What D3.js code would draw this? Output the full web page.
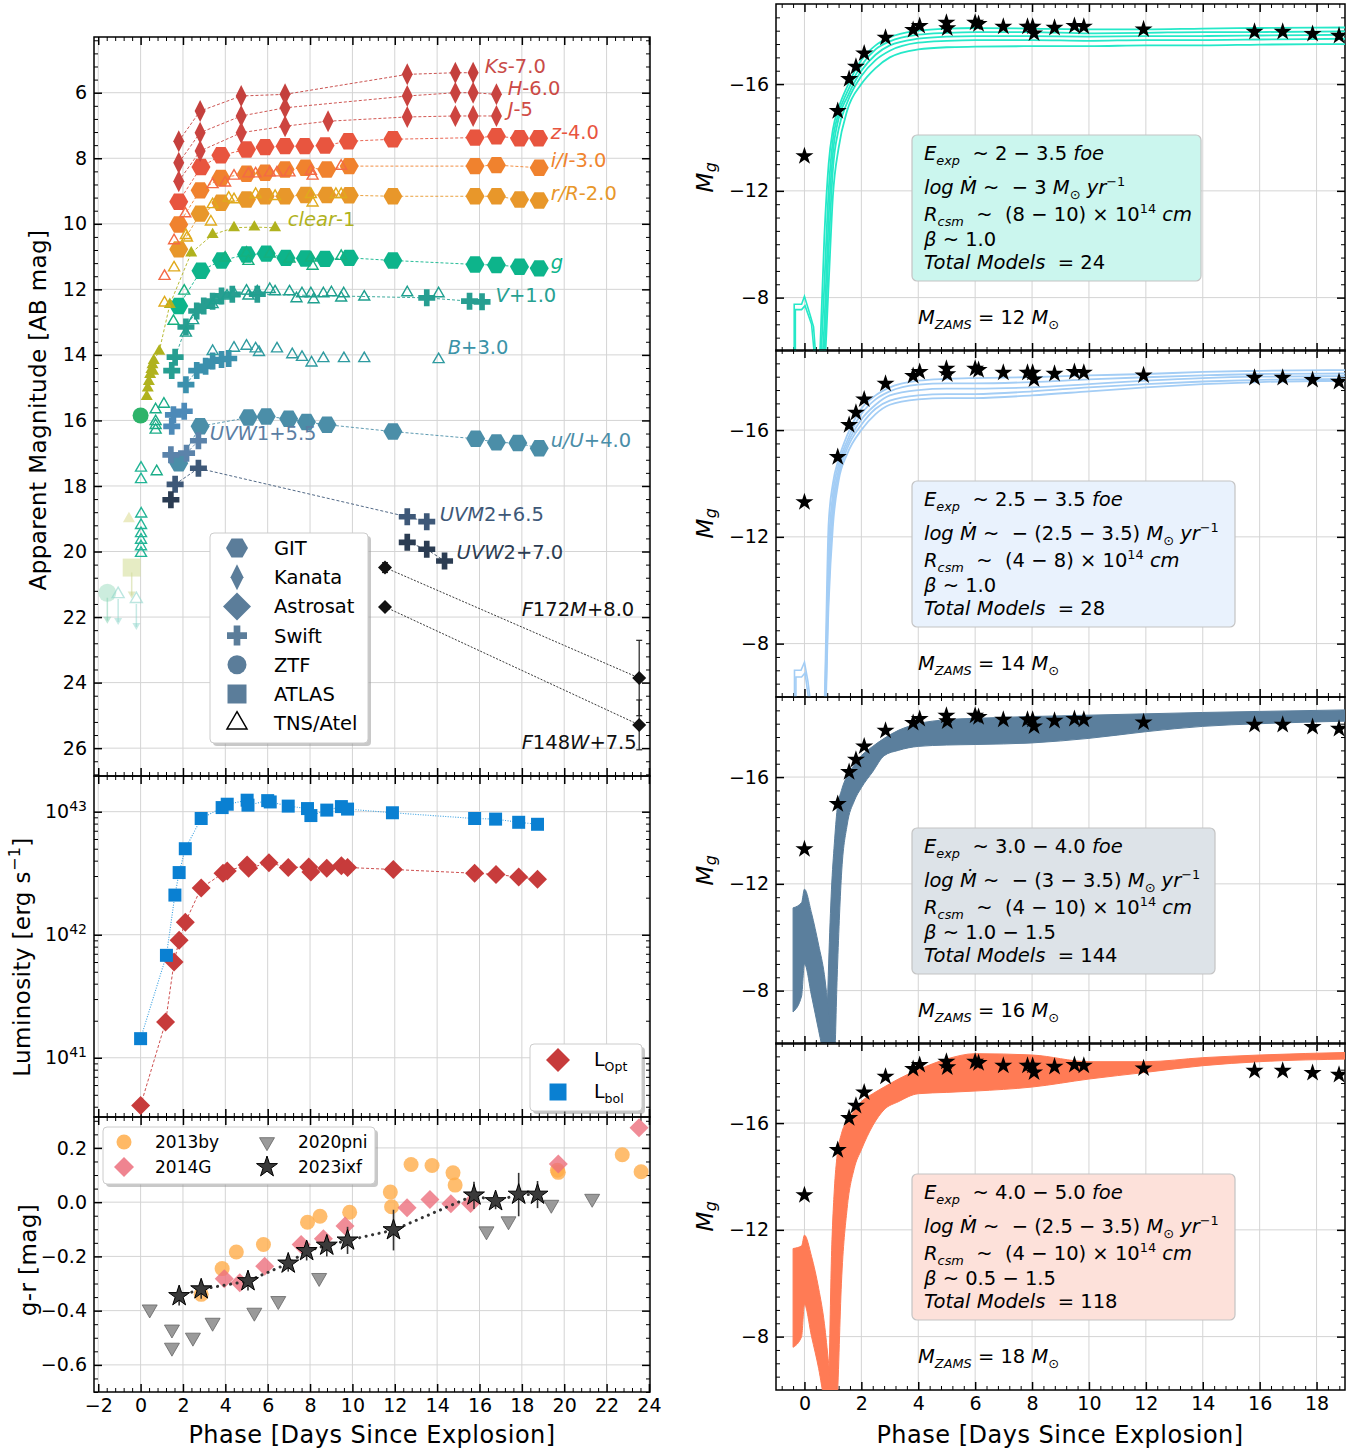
<!DOCTYPE html>
<html>
<head>
<meta charset="utf-8">
<script src="https://cdn.jsdelivr.net/npm/d3@7/dist/d3.min.js"></script>
<style>
  body { margin: 0; background: #fff; }
  svg text { font-family: "DejaVu Sans", sans-serif; }
</style>
</head>
<body>
<svg id="fig" width="1366" height="1453"></svg>
<script>
// ---------------- light curves: [phase (d), apparent mag] ----------------
const ksData = [[1.80,7.48],[2.81,6.56],[4.75,6.10],[6.82,6.05],[12.59,5.44],[14.86,5.39],[15.70,5.39]];
const hData = [[1.80,8.14],[2.81,7.22],[4.75,6.71],[6.82,6.46],[12.59,6.10],[14.86,6.00],[15.70,6.00],[16.80,6.05]];
const jData = [[1.80,8.70],[2.81,7.78],[4.75,7.22],[6.82,7.02],[8.85,6.87],[12.59,6.74],[14.86,6.71],[15.70,6.71],[16.80,6.71]];
const zData = [[1.80,9.33],[2.85,8.27],[3.79,7.91],[5.00,7.73],[5.88,7.66],[6.82,7.63],[7.75,7.63],[8.71,7.61],[9.81,7.48],[11.91,7.42],[15.79,7.37],[16.80,7.33],[17.89,7.39],[18.79,7.39]];
const iData = [[1.80,10.02],[2.81,8.98],[3.79,8.60],[5.00,8.47],[5.88,8.44],[6.82,8.34],[7.78,8.29],[8.79,8.34],[9.85,8.24],[15.79,8.24],[16.80,8.21],[18.82,8.29]];
const rData = [[1.80,10.78],[2.81,9.69],[3.79,9.36],[5.00,9.26],[5.88,9.16],[6.82,9.16],[7.78,9.12],[8.79,9.12],[9.85,9.13],[11.91,9.16],[15.79,9.16],[16.80,9.16],[17.89,9.26],[18.82,9.29]];
const gData = [[1.80,12.51],[2.85,11.43],[3.82,11.12],[5.00,10.94],[5.93,10.91],[6.86,11.04],[7.78,11.06],[8.71,11.07],[9.85,11.04],[11.91,11.12],[15.79,11.24],[16.80,11.26],[17.89,11.31],[18.82,11.36]];
const uGitData = [[1.80,17.31],[2.81,16.18],[5.09,15.91],[5.93,15.88],[6.99,15.95],[7.83,16.05],[8.80,16.13],[11.91,16.34],[15.82,16.56],[16.80,16.67],[17.81,16.69],[18.82,16.85]];
const clearData = [[0.29,15.27],[0.34,15.01],[0.39,14.81],[0.45,14.60],[0.51,14.45],[0.56,14.30],[0.59,14.50],[0.62,14.17],[0.88,13.89],[1.38,12.46],[2.39,10.89],[3.40,10.33],[4.41,10.12],[5.37,10.10],[6.35,10.12]];
const ztfData = [[0.0,15.85]];

// Swift
const vSwift = [[1.47,14.48],[1.63,14.07],[2.14,13.15],[2.65,12.66],[2.98,12.51],[3.40,12.36],[3.82,12.20],[4.33,12.15],[5.51,12.15],[13.51,12.26],[15.53,12.36],[16.12,12.38]];
const bSwift = [[2.14,14.91],[2.65,14.48],[3.07,14.35],[3.40,14.19],[3.82,14.14],[4.16,14.11]];
const uSwift = [[1.47,16.18],[1.55,15.83],[2.06,15.72]];
const uvw1Swift = [[1.43,17.05],[2.17,17.00],[2.73,16.62]];
const uvm2Swift = [[1.63,17.95],[2.73,17.46],[12.59,18.94],[13.51,19.09]];
const uvw2Early = [[1.43,18.42]];
const uvw2Swift = [[12.59,19.72],[13.51,19.93],[14.35,20.29]];

// Astrosat UVIT: [phase, mag, err]
const f172Data = [[11.54,20.49,0.15],[23.54,23.86,1.15]];
const f148Data = [[11.54,21.69,0.05],[23.54,25.29,0.76]];

// TNS / ATel
const tnsI = [[1.13,11.60],[1.58,10.51],[2.11,9.69],[3.40,8.80],[3.99,8.75],[4.41,8.54],[5.09,8.47],[5.43,8.47],[6.10,8.44],[6.44,8.44],[7.03,8.44],[8.04,8.39],[8.12,8.54],[9.47,8.24]];
const tnsR = [[1.13,12.41],[1.58,11.34],[2.14,10.35],[2.19,10.43],[3.32,9.94],[3.40,9.41],[4.16,9.21],[4.41,9.26],[5.43,9.10],[6.35,9.16],[8.04,9.10],[8.12,9.36],[9.22,9.10],[9.47,9.10]];
const tnsG = [[1.55,12.97],[2.06,12.05],[3.99,11.04],[5.00,10.89],[5.09,11.14],[6.10,10.92],[7.03,11.07],[8.04,11.04],[8.12,11.29],[9.47,10.99]];
const tnsV = [[2.14,13.33],[2.48,12.95],[3.40,12.46],[3.57,12.34],[4.08,12.20],[4.41,12.13],[5.00,12.05],[5.09,12.20],[5.51,12.07],[6.10,12.00],[6.35,12.07],[7.03,12.07],[7.36,12.28],[7.62,12.13],[8.04,12.13],[8.17,12.31],[8.63,12.13],[9.01,12.10],[9.47,12.26],[9.59,12.13],[10.56,12.23],[12.59,12.10],[14.07,12.13]];
const tnsB = [[3.40,13.89],[4.41,13.79],[5.00,13.73],[5.43,13.81],[5.59,13.92],[6.44,13.81],[7.16,13.99],[7.62,14.07],[8.07,14.24],[8.63,14.11],[9.60,14.11],[10.56,14.11],[14.07,14.14]];
const tnsEarly = [[0.71,15.67],[0.71,16.03],[0.71,16.15],[0.71,16.29],[1.10,15.50],[0.76,17.56]];
const tnsDay0 = [[0.02,17.45],[0.02,17.80],[0.03,18.85],[0.02,19.20],[0.02,19.45],[0.02,19.65],[0.02,19.85],[0.02,20.05]];

// pre-explosion limits
const limZtf = [[-1.57,21.26]];
const limTns = [[-1.06,21.30],[-0.20,21.45]];
const limAtlas = [[-0.42,20.49]];
const preClear = [[-0.55,19.00]];

// band labels: [phase, mag]
const bandLabels = [
  {seg:[["Ks","i"],["-7.0",""]], at:[16.25,5.18], c:"#c94b48"},
  {seg:[["H","i"],["-6.0",""]], at:[17.33,5.85], c:"#cc4a46"},
  {seg:[["J","i"],["-5",""]], at:[17.33,6.49], c:"#d04b45"},
  {seg:[["z","i"],["-4.0",""]], at:[19.36,7.19], c:"#e8553f"},
  {seg:[["i/I","i"],["-3.0",""]], at:[19.36,8.04], c:"#f0842e"},
  {seg:[["r/R","i"],["-2.0",""]], at:[19.36,9.05], c:"#e8972a"},
  {seg:[["clear","i"],["-1",""]], at:[6.95,9.84], c:"#b0b21e"},
  {seg:[["g","i"]], at:[19.36,11.18], c:"#0db48b"},
  {seg:[["V","i"],["+1.0",""]], at:[16.76,12.16], c:"#27a192"},
  {seg:[["B","i"],["+3.0",""]], at:[14.5,13.77], c:"#3b93a8"},
  {seg:[["u/U","i"],["+4.0",""]], at:[19.36,16.61], c:"#4b8ea8"},
  {seg:[["UVW","i"],["1+5.5",""]], at:[3.27,16.37], c:"#5b7ea3"},
  {seg:[["UVM","i"],["2+6.5",""]], at:[14.12,18.87], c:"#3e5878"},
  {seg:[["UVW","i"],["2+7.0",""]], at:[14.92,20.02], c:"#2b3c52"},
  {seg:[["F","i"],["172",""],["M","i"],["+8.0",""]], at:[17.99,21.76], c:"#111"},
  {seg:[["F","i"],["148",""],["W","i"],["+7.5",""]], at:[17.99,25.80], c:"#111"}
];
const legendNames = ["GIT", "Kanata", "Astrosat", "Swift", "ZTF", "ATLAS", "TNS/Atel"];

// ---------------- bolometric / optical luminosity [phase, L] ----------------
const lbolData = [[0,1.43e41],[1.22,6.8e41],[1.62,2.1e42],[1.82,3.2e42],[2.11,5.0e42],[2.86,8.8e42],[3.85,1.08e43],[4.09,1.15e43],[5.03,1.24e43],[5.07,1.13e43],[6.0,1.23e43],[6.12,1.20e43],[6.97,1.11e43],[7.88,1.06e43],[8.04,9.3e42],[8.79,1.03e43],[9.48,1.10e43],[9.77,1.05e43],[11.89,9.8e42],[15.77,8.8e42],[16.76,8.7e42],[17.85,8.2e42],[18.74,7.9e42]];
const loptData = [[0,4.1e40],[1.18,1.95e41],[1.58,6.0e41],[1.82,9.0e41],[2.11,1.26e42],[2.86,2.4e42],[3.89,3.16e42],[4.09,3.3e42],[5.03,3.68e42],[5.10,3.47e42],[6.06,3.85e42],[6.97,3.52e42],[7.94,3.55e42],[8.04,3.24e42],[8.79,3.47e42],[9.48,3.63e42],[9.77,3.52e42],[11.93,3.39e42],[15.77,3.16e42],[16.78,3.09e42],[17.85,2.95e42],[18.74,2.82e42]];

// ---------------- g-r colour [phase, g-r] ----------------
const by13 = [[2.86,-0.34],[3.85,-0.245],[4.52,-0.184],[5.80,-0.156],[7.88,-0.074],[8.47,-0.052],[9.87,-0.037],[11.79,0.037],[11.85,-0.017],[12.77,0.139],[13.76,0.135],[14.75,0.108],[14.85,0.063],[19.68,0.118],[19.72,0.11],[22.74,0.175],[23.63,0.112]];
const g14 = [[3.95,-0.282],[4.68,-0.297],[5.86,-0.236],[7.58,-0.156],[8.63,-0.135],[9.65,-0.088],[12.58,-0.021],[13.66,0.01],[14.65,-0.006],[15.58,-0.005],[19.72,0.141],[23.53,0.274]];
const pni20 = [[0.43,-0.395],[1.48,-0.469],[1.48,-0.536],[2.47,-0.499],[3.40,-0.444],[5.37,-0.407],[6.50,-0.364],[8.43,-0.279],[16.33,-0.107],[17.37,-0.07],[19.39,-0.009],[21.32,0.013]];
const ixf23 = [[1.82,-0.346,0.035],[2.86,-0.321,0.035],[5.07,-0.291,0.035],[6.97,-0.226,0.03],[7.84,-0.18,0.035],[8.79,-0.16,0.04],[9.77,-0.141,0.05],[11.94,-0.103,0.075],[15.74,0.025,0.05],[16.76,0.004,0.03],[17.85,0.028,0.08],[18.74,0.028,0.05]];

// ---------------- absolute g mag and model grids ----------------
const mgObs = [[0,-13.3],[1.17,-14.99],[1.57,-16.19],[1.81,-16.65],[2.10,-17.15],[2.85,-17.74],[3.82,-18.03],[4.05,-18.18],[4.99,-18.3],[5.02,-18.09],[6.0,-18.3],[6.12,-18.25],[6.99,-18.15],[7.84,-18.15],[8.02,-18.15],[8.07,-17.9],[8.79,-18.11],[9.49,-18.18],[9.82,-18.15],[11.92,-18.05],[15.82,-17.96],[16.81,-17.96],[17.86,-17.88],[18.79,-17.81]];

const modelPhase = [0.55,0.7,0.85,1.0,1.2,1.5,2.0,2.5,3.0,4.0,5.0,6.0,8.0,10,12,14,16,19.2];
const m12Curves = [
  [-6.0,-10.3,-13.0,-14.3,-15.1,-15.9,-16.9,-17.45,-17.75,-18.0,-18.08,-18.1,-18.08,-18.05,-18.05,-18.08,-18.1,-18.12],
  [-5.0,-8.5,-12.0,-13.9,-14.9,-15.7,-16.7,-17.3,-17.6,-17.85,-17.92,-17.95,-17.95,-17.9,-17.92,-17.95,-17.95,-17.98],
  [-4.5,-7.0,-11.0,-13.4,-14.7,-15.5,-16.5,-17.1,-17.45,-17.7,-17.78,-17.8,-17.8,-17.78,-17.8,-17.8,-17.82,-17.85],
  [-4.0,-6.0,-9.8,-12.8,-14.3,-15.3,-16.3,-16.9,-17.25,-17.55,-17.62,-17.65,-17.65,-17.62,-17.65,-17.65,-17.67,-17.7],
  [-3.5,-5.2,-8.5,-11.8,-13.6,-15.0,-16.0,-16.6,-17.0,-17.3,-17.38,-17.4,-17.42,-17.42,-17.45,-17.45,-17.48,-17.5]
];
const m12Early = [
  [[-0.36,-5.5],[-0.36,-7.75],[-0.1,-7.75],[0,-8.05],[0.2,-7.35],[0.32,-6.9],[0.42,-5.5]],
  [[-0.32,-5.5],[-0.32,-7.55],[-0.1,-7.55],[0.02,-7.7],[0.25,-7.0],[0.38,-5.5]]
];
const m14Curves = [
  [-3.0,-5.5,-12.5,-14.0,-14.9,-15.8,-16.8,-17.3,-17.6,-17.85,-17.92,-17.95,-17.98,-18.05,-18.1,-18.18,-18.22,-18.25],
  [-3.0,-5.0,-11.5,-13.6,-14.7,-15.6,-16.6,-17.15,-17.45,-17.7,-17.75,-17.75,-17.8,-17.9,-17.98,-18.05,-18.1,-18.12],
  [-3.0,-4.8,-10.8,-13.2,-14.5,-15.45,-16.4,-16.95,-17.3,-17.5,-17.55,-17.55,-17.6,-17.72,-17.85,-17.95,-18.0,-18.02],
  [-3.0,-4.5,-10.0,-12.8,-14.3,-15.3,-16.2,-16.8,-17.1,-17.3,-17.35,-17.35,-17.45,-17.6,-17.72,-17.82,-17.88,-17.92],
  [-3.0,-4.2,-9.5,-12.4,-14.1,-15.1,-16.0,-16.6,-16.95,-17.15,-17.2,-17.2,-17.3,-17.45,-17.6,-17.72,-17.8,-17.85]
];
const m14Early = [
  [[-0.35,-5.5],[-0.35,-7.0],[-0.12,-7.0],[0,-7.3],[0.12,-6.6],[0.25,-5.5]],
  [[-0.3,-5.5],[-0.3,-6.75],[-0.1,-6.75],[0.02,-6.9],[0.2,-5.5]]
];
const bandPhase = [0.75,0.85,0.95,1.05,1.15,1.3,1.5,1.75,2.0,2.4,2.8,3.3,4,5,6,8,10,12,14,16,19.2];
const m16Upper = [-5,-9,-11.8,-13.5,-14.8,-15.5,-16.05,-16.45,-16.8,-17.15,-17.45,-17.75,-18.0,-18.15,-18.2,-18.27,-18.32,-18.37,-18.42,-18.46,-18.52];
const m16Lower = [-4,-4,-4,-5,-8.5,-12.3,-14.2,-15.1,-15.6,-16.2,-16.8,-17.0,-17.15,-17.2,-17.22,-17.28,-17.45,-17.7,-17.9,-18.0,-18.1];
const m18Upper = [-4,-6,-11.0,-13.5,-14.8,-15.6,-16.1,-16.45,-16.8,-17.1,-17.35,-17.65,-18.0,-18.4,-18.6,-18.55,-18.3,-18.3,-18.45,-18.55,-18.65];
const m18Lower = [-4,-4,-4,-4,-5.5,-10,-12.8,-14.3,-15.0,-15.9,-16.5,-16.8,-17.1,-17.15,-17.2,-17.35,-17.65,-17.9,-18.15,-18.3,-18.4];
const earlyPhase = [-0.4,-0.1,0.0,0.25,0.5,0.7,0.85,1.0];
const e16Upper = [-11.1,-11.3,-11.8,-10.9,-9.7,-8.6,-7.2,-5.8];
const e16Lower = [-7.2,-7.8,-9.0,-7.8,-6.5,-5.5,-5.0,-5.0];
const e18Upper = [-11.3,-11.4,-11.8,-11.0,-9.8,-8.5,-7.0,-5.5];
const e18Lower = [-7.6,-8.0,-9.2,-8.0,-6.8,-5.6,-5.0,-5.0];

const boxTexts = [
  ["2 \u2212 3.5", "\u2212 3", "(8 \u2212 10)", "1.0", "24", "12"],
  ["2.5 \u2212 3.5", "\u2212 (2.5 \u2212 3.5)", "(4 \u2212 8)", "1.0", "28", "14"],
  ["3.0 \u2212 4.0", "\u2212 (3 \u2212 3.5)", "(4 \u2212 10)", "1.0 \u2212 1.5", "144", "16"],
  ["4.0 \u2212 5.0", "\u2212 (2.5 \u2212 3.5)", "(4 \u2212 10)", "0.5 \u2212 1.5", "118", "18"]
];

// ---------------- helpers ----------------
const svg = d3.select("#fig");
const FONT = "DejaVu Sans";

function markerPath(type, s) {
  const r = s / 2;
  if (type === "hex") return "M" + d3.range(6).map(i => [r * Math.cos(i * Math.PI / 3), r * Math.sin(i * Math.PI / 3)].map(v => v.toFixed(2)).join(",")).join("L") + "Z";
  if (type === "thin") return `M0,${-r}L${r * 0.5},0L0,${r}L${-r * 0.5},0Z`;
  if (type === "diamond") return `M0,${-r}L${r},0L0,${r}L${-r},0Z`;
  if (type === "tri") { const h = s * 0.866; return `M0,${-2 * h / 3}L${r},${h / 3}L${-r},${h / 3}Z`; }
  if (type === "tridown") { const h = s * 0.866; return `M0,${2 * h / 3}L${r},${-h / 3}L${-r},${-h / 3}Z`; }
  if (type === "plus") return d3.symbol(d3.symbolCross, 5 * (s / 3) ** 2)();
  if (type === "circle") return d3.symbol(d3.symbolCircle, Math.PI * r * r)();
  if (type === "square") return d3.symbol(d3.symbolSquare, s * s)();
  if (type === "star") return d3.symbol(d3.symbolStar, r * r / 0.8908)();
}

function points(g, data, x, y, type, size, st) {
  g.append("g").selectAll("path").data(data).join("path")
    .attr("transform", d => `translate(${x(d[0])},${y(d[1])})`)
    .attr("d", markerPath(type, size))
    .attr("fill", st.fill || "none")
    .attr("stroke", st.stroke || "none")
    .attr("stroke-width", st.sw || 1)
    .attr("opacity", st.op == null ? 1 : st.op);
}

function dashLine(g, data, x, y, color, dash, width) {
  g.append("path").datum(data)
    .attr("d", d3.line().x(d => x(d[0])).y(d => y(d[1])))
    .attr("fill", "none").attr("stroke", color)
    .attr("stroke-width", width || 0.9)
    .attr("stroke-dasharray", dash || "3,2");
}

function mathText(g, x, y, segs, size, color) {
  const t = g.append("text").attr("x", x).attr("y", y).attr("font-size", size)
    .attr("fill", color || "#000").style("white-space", "pre");
  let cur = 0;
  segs.forEach(([txt, fl]) => {
    const shift = fl.includes("b") ? size * 0.24 : fl.includes("p") ? -size * 0.4 : 0;
    const sp = t.append("tspan").attr("dy", shift - cur).text(txt);
    cur = shift;
    if (fl.includes("i")) sp.attr("font-style", "italic");
    if (fl.includes("b") || fl.includes("p")) sp.attr("font-size", size * 0.66);
  });
  return t;
}

function axesBox(g, x, y, o) {
  const [l, r] = x.range();
  const yr = y.range(); const t = Math.min(...yr), b = Math.max(...yr);
  const grid = g.append("g").attr("stroke", "#d4d4d4").attr("stroke-width", 1);
  grid.selectAll(".gx").data(o.xGrid).join("line")
    .attr("x1", d => x(d)).attr("x2", d => x(d)).attr("y1", t).attr("y2", b);
  grid.selectAll(".gy").data(o.yGrid).join("line")
    .attr("x1", l).attr("x2", r).attr("y1", d => y(d)).attr("y2", d => y(d));
  const none = () => "";
  const ax = (axis, vals, size, fmt, tr) => {
    const a = g.append("g").attr("transform", tr)
      .call(axis.tickValues(vals).tickSize(-size).tickPadding(7).tickFormat(fmt));
    a.select(".domain").remove();
    a.selectAll("line").attr("stroke", "#000").attr("stroke-width", size > 5 ? 1.5 : 1);
    a.selectAll("text").attr("font-size", 19).attr("font-family", FONT).attr("fill", "#000");
    return a;
  };
  const xa = ax(d3.axisBottom(x), o.xMajor, 8, o.xFmt || none, `translate(0,${b})`);
  ax(d3.axisBottom(x), o.xMinor, 4, none, `translate(0,${b})`);
  ax(d3.axisTop(x), o.xMajor, 8, none, `translate(0,${t})`);
  ax(d3.axisTop(x), o.xMinor, 4, none, `translate(0,${t})`);
  const ya = ax(d3.axisLeft(y), o.yMajor, 8, o.yFmt || none, `translate(${l},0)`);
  ax(d3.axisLeft(y), o.yMinor, 4, none, `translate(${l},0)`);
  ax(d3.axisRight(y), o.yMajor, 8, none, `translate(${r},0)`);
  ax(d3.axisRight(y), o.yMinor, 4, none, `translate(${r},0)`);
  g.append("rect").attr("x", l).attr("y", t).attr("width", r - l).attr("height", b - t)
    .attr("fill", "none").attr("stroke", "#000").attr("stroke-width", 1.5);
  return { xa, ya };
}

function clipGroup(id, x, y) {
  const [l, r] = x.range(); const yr = y.range();
  const t = Math.min(...yr), b = Math.max(...yr);
  svg.append("clipPath").attr("id", id).append("rect")
    .attr("x", l).attr("y", t).attr("width", r - l).attr("height", b - t);
  return svg.append("g").attr("clip-path", `url(#${id})`);
}

function legendBox(x, y, w, h) {
  svg.append("rect").attr("x", x + 3).attr("y", y + 3).attr("width", w).attr("height", h)
    .attr("rx", 4).attr("fill", "#9a9a9a").attr("opacity", 0.55);
  svg.append("rect").attr("x", x).attr("y", y).attr("width", w).attr("height", h)
    .attr("rx", 4).attr("fill", "#fff").attr("stroke", "#cccccc");
}

function axisLabel(x, y, rot, size, build) {
  const t = svg.append("text")
    .attr("transform", `translate(${x},${y})` + (rot ? " rotate(-90)" : ""))
    .attr("text-anchor", "middle").attr("dominant-baseline", rot ? "middle" : "auto")
    .attr("font-size", size).attr("letter-spacing", rot ? 0.4 : 0.5);
  if (typeof build === "string") t.text(build); else build(t);
  return t;
}

function minorTicks(k0, k1, step, every, lo, hi) {
  return d3.range(k0, k1 + 1).filter(k => k % every !== 0).map(k => +(k * step).toFixed(4)).filter(v => v >= lo && v <= hi);
}

// ---------------- scales ----------------
const xL = d3.scaleLinear().domain([-2.2, 24.05]).range([94, 650]);
const yMag = d3.scaleLinear().domain([4.3, 26.85]).range([37, 776]);
const yLum = d3.scaleLog().domain([3.3e40, 1.95e43]).range([1117, 776]);
const yGR = d3.scaleLinear().domain([-0.70, 0.314]).range([1392, 1117]);
const xR = d3.scaleLinear().domain([-1, 19]).range([776, 1345]);
const rTops = [4, 350, 697, 1043];
const yR = rTops.map(t => d3.scaleLinear().domain([-19, -6]).range([t, t + 347]));

const xMajL = d3.range(-2, 25, 2);
const xMinL = minorTicks(-5, 61, 0.4, 5, -2.2, 24.05);

// ================= top-left: multi-band light curves =================
axesBox(svg.append("g"), xL, yMag, {
  xGrid: xMajL, yGrid: d3.range(6, 27, 2),
  xMajor: xMajL, xMinor: xMinL,
  yMajor: d3.range(6, 27, 2), yMinor: minorTicks(11, 67, 0.4, 5, 4.3, 26.85),
  yFmt: d3.format("d")
});
const gTop = clipGroup("clipTop", xL, yMag);

// faded pre-explosion limits
function limitArrows(g, data, color) {
  data.forEach(d => {
    const x = xL(d[0]), y1 = yMag(d[1] + 0.15), y2 = yMag(d[1] + 0.85);
    g.append("line").attr("x1", x).attr("x2", x).attr("y1", y1).attr("y2", y2)
      .attr("stroke", color).attr("stroke-width", 1.5).attr("opacity", 0.5);
    g.append("path").attr("d", `M${x},${y2 + 3}l-4,-7l8,0z`).attr("fill", color).attr("opacity", 0.5);
  });
}
limitArrows(gTop, limZtf, "#7fcfb0");
limitArrows(gTop, limTns, "#8fd6cc");
limitArrows(gTop, limAtlas, "#c8d48c");
points(gTop, limZtf, xL, yMag, "circle", 18, { fill: "#8fd6b6", op: 0.45 });
points(gTop, limTns, xL, yMag, "tri", 12, { stroke: "#8fd6cc", sw: 1.4, op: 0.6 });
points(gTop, limAtlas, xL, yMag, "square", 18, { fill: "#d6df9c", op: 0.6 });
points(gTop, preClear, xL, yMag, "tri", 12, { fill: "#dede9a", op: 0.6 });

// connecting lines
const bandLines = [
  [ksData, "#c4403d"], [hData, "#c8433f"], [jData, "#cd4540"], [zData, "#e8553f"],
  [iData, "#f0822e"], [rData, "#e8972a"], [clearData, "#b0b21e"], [gData, "#0db48b"],
  [uGitData, "#4b8ea8"], [vSwift, "#27a192"], [bSwift, "#3b93a8"], [uvw1Swift, "#5b83aa"],
  [uvm2Swift, "#3e5878"], [uvw2Swift, "#2b3c52"]
];
bandLines.forEach(([d, c]) => dashLine(gTop, d, xL, yMag, c, "3,2", 0.9));
dashLine(gTop, f172Data, xL, yMag, "#222", "2,1.5", 0.9);
dashLine(gTop, f148Data, xL, yMag, "#222", "2,1.5", 0.9);

// GIT hexagons
[[zData, "#e8553f"], [iData, "#f0822e"], [rData, "#e8972a"], [gData, "#0db48b"], [uGitData, "#4b8ea8"]]
  .forEach(([d, c]) => points(gTop, d, xL, yMag, "hex", 19, { fill: c }));
// Kanata
[[ksData, "#c4403d"], [hData, "#c8433f"], [jData, "#cd4540"]]
  .forEach(([d, c]) => points(gTop, d, xL, yMag, "thin", 22, { fill: c }));
// clear filter
points(gTop, clearData, xL, yMag, "tri", 12, { fill: "#b0b21e" });
// ZTF
points(gTop, ztfData, xL, yMag, "circle", 16, { fill: "#2db36a" });
// Swift
[[vSwift, "#279e91"], [bSwift, "#3b90ad"], [uSwift, "#4d8ab8"], [uvw1Swift, "#5b83aa"],
 [uvm2Swift, "#3e5878"], [uvw2Early, "#2b3c52"], [uvw2Swift, "#2b3c52"]]
  .forEach(([d, c]) => points(gTop, d, xL, yMag, "plus", 17, { fill: c }));
// TNS / ATel
[[tnsI, "#f36a45"], [tnsR, "#e0aa1c"], [tnsG, "#16b07f"], [tnsV, "#1fa08f"], [tnsB, "#2f9ba0"],
 [tnsEarly, "#1aad88"], [tnsDay0, "#22b596"]]
  .forEach(([d, c]) => points(gTop, d, xL, yMag, "tri", 11, { stroke: c, sw: 1.4 }));
// Astrosat with error bars
[f172Data, f148Data].forEach(data => {
  data.forEach(d => {
    const x = xL(d[0]);
    gTop.append("line").attr("x1", x).attr("x2", x).attr("y1", yMag(d[1] - d[2])).attr("y2", yMag(d[1] + d[2]))
      .attr("stroke", "#222").attr("stroke-width", 1.2);
    [d[1] - d[2], d[1] + d[2]].forEach(v => gTop.append("line").attr("x1", x - 3).attr("x2", x + 3)
      .attr("y1", yMag(v)).attr("y2", yMag(v)).attr("stroke", "#222").attr("stroke-width", 1.2));
  });
  points(gTop, data, xL, yMag, "diamond", 14, { fill: "#111" });
});
// band labels
bandLabels.forEach(b => {
  mathText(gTop, xL(b.at[0]), yMag(b.at[1]) + 7, b.seg, 19.5, b.c);
});

// legend
legendBox(210, 533, 158, 210);
const legendSyms = [["hex", 22], ["thin", 26], ["diamond", 28], ["plus", 20], ["circle", 19], ["square", 19], ["tri", 20]];
legendNames.forEach((name, i) => {
  const yy = 548 + i * 29.2;
  const [sym, s] = legendSyms[i];
  svg.append("path").attr("transform", `translate(237,${yy})`).attr("d", markerPath(sym, s))
    .attr("fill", sym === "tri" ? "none" : "#5b7d9a")
    .attr("stroke", sym === "tri" ? "#000" : "none").attr("stroke-width", 1.5);
  svg.append("text").attr("x", 274).attr("y", yy + 7).attr("font-size", 19.5).text(name);
});

axisLabel(39, 410, true, 23, "Apparent Magnitude [AB mag]");

// ================= middle-left: luminosity =================
const lumMinor = [];
[40, 41, 42].forEach(e => d3.range(2, 10).forEach(m => { const v = m * 10 ** e; if (v >= 3.3e40 && v <= 1.95e43) lumMinor.push(v); }));
const lumAx = axesBox(svg.append("g"), xL, yLum, {
  xGrid: xMajL, yGrid: [1e41, 1e42, 1e43],
  xMajor: xMajL, xMinor: xMinL,
  yMajor: [1e41, 1e42, 1e43], yMinor: lumMinor,
  yFmt: () => "10"
});
lumAx.ya.selectAll("text").each(function (d) {
  d3.select(this).append("tspan").attr("dy", "-0.55em").attr("font-size", 14)
    .text(Math.round(Math.log10(d)));
});
const gLum = clipGroup("clipLum", xL, yLum);
dashLine(gLum, lbolData, xL, yLum, "#3aa0e0", "1,1.5", 1.1);
dashLine(gLum, loptData, xL, yLum, "#c73b3b", "3,2", 0.9);
points(gLum, loptData, xL, yLum, "diamond", 19, { fill: "#c73b3b" });
points(gLum, lbolData, xL, yLum, "square", 13, { fill: "#0a80d2" });

legendBox(530, 1044, 112, 67);
svg.append("path").attr("transform", "translate(558,1060)").attr("d", markerPath("diamond", 24)).attr("fill", "#c73b3b");
svg.append("path").attr("transform", "translate(558,1092)").attr("d", markerPath("square", 17)).attr("fill", "#0a80d2");
mathText(svg, 594, 1066, [["L", ""], ["Opt", "b"]], 19, "#000");
mathText(svg, 594, 1098, [["L", ""], ["bol", "b"]], 19, "#000");

axisLabel(23, 957, true, 23, t => {
  t.append("tspan").text("Luminosity [erg s");
  t.append("tspan").attr("dy", -8).attr("font-size", 16).text("\u22121");
  t.append("tspan").attr("dy", 8).text("]");
});

// ================= bottom-left: g-r colour =================
axesBox(svg.append("g"), xL, yGR, {
  xGrid: xMajL, yGrid: [-0.6, -0.4, -0.2, 0, 0.2],
  xMajor: xMajL, xMinor: xMinL,
  yMajor: [-0.6, -0.4, -0.2, 0, 0.2], yMinor: minorTicks(-14, 6, 0.05, 4, -0.7, 0.314),
  xFmt: d3.format("d"), yFmt: d3.format(".1f")
});
const gGR = clipGroup("clipGR", xL, yGR);
points(gGR, by13, xL, yGR, "circle", 15, { fill: "#ffad4a", op: 0.8 });
points(gGR, g14, xL, yGR, "diamond", 19, { fill: "#ec6f7d", op: 0.8 });
points(gGR, pni20, xL, yGR, "tridown", 15, { fill: "#9a9a9a", stroke: "#666", sw: 0.8 });
gGR.append("path").datum(ixf23)
  .attr("d", d3.line().x(d => xL(d[0])).y(d => yGR(d[1])))
  .attr("fill", "none").attr("stroke", "#333").attr("stroke-width", 3)
  .attr("stroke-linecap", "round").attr("stroke-dasharray", "0.1,6.5");
ixf23.forEach(d => {
  gGR.append("line").attr("x1", xL(d[0])).attr("x2", xL(d[0]))
    .attr("y1", yGR(d[1] - d[2])).attr("y2", yGR(d[1] + d[2]))
    .attr("stroke", "#333").attr("stroke-width", 1.6);
});
points(gGR, ixf23, xL, yGR, "star", 22, { fill: "#3a3a3a", stroke: "#000", sw: 1 });

legendBox(103, 1127, 272, 57);
svg.append("path").attr("transform", "translate(124,1142)").attr("d", markerPath("circle", 15)).attr("fill", "#ffad4a").attr("opacity", 0.85);
svg.append("path").attr("transform", "translate(124,1167)").attr("d", markerPath("diamond", 20)).attr("fill", "#ec6f7d").attr("opacity", 0.85);
svg.append("path").attr("transform", "translate(267,1142)").attr("d", markerPath("tridown", 15)).attr("fill", "#9a9a9a").attr("stroke", "#666").attr("stroke-width", 0.8);
svg.append("path").attr("transform", "translate(267,1167)").attr("d", markerPath("star", 22)).attr("fill", "#3a3a3a").attr("stroke", "#000");
[["2013by", 155, 1142], ["2014G", 155, 1167], ["2020pni", 298, 1142], ["2023ixf", 298, 1167]].forEach(([t, x, y]) =>
  svg.append("text").attr("x", x).attr("y", y + 6).attr("font-size", 17).text(t));

axisLabel(29, 1260, true, 23, "g-r [mag]");
axisLabel(372, 1443, false, 24, "Phase [Days Since Explosion]");

// ================= right: model grids vs M_g =================
const modelColors = ["#25e8c8", "#a3cdf5", "#5b7f9d", "#ff7b55"];
const boxFills = ["#cbf6ee", "#e9f2fd", "#dde3e8", "#fde1da"];
const boxWidths = [289, 323, 303, 323];
const lineR = (y) => d3.line().x(d => xR(d[0])).y(d => y(d[1])).curve(d3.curveMonotoneX);

yR.forEach((y, p) => {
  const top = rTops[p];
  axesBox(svg.append("g"), xR, y, {
    xGrid: d3.range(0, 19, 2), yGrid: [-16, -12, -8],
    xMajor: d3.range(0, 19, 2), xMinor: minorTicks(-2, 47, 0.4, 5, -1, 19),
    yMajor: [-16, -12, -8], yMinor: minorTicks(-37, -13, 0.5, 8, -19, -6),
    xFmt: p === 3 ? d3.format("d") : null, yFmt: d3.format("d")
  });
  const g = clipGroup("clipR" + p, xR, y);
  const col = modelColors[p];

  if (p < 2) {
    const curves = p === 0 ? m12Curves : m14Curves;
    const early = p === 0 ? m12Early : m14Early;
    curves.forEach(c => g.append("path").datum(modelPhase.map((t, i) => [t, c[i]]))
      .attr("d", lineR(y)).attr("fill", "none").attr("stroke", col).attr("stroke-width", 1.8));
    early.forEach(c => g.append("path").datum(c)
      .attr("d", d3.line().x(d => xR(d[0])).y(d => y(d[1])))
      .attr("fill", "none").attr("stroke", col).attr("stroke-width", 1.6));
  } else {
    const up = p === 2 ? m16Upper : m18Upper, lo = p === 2 ? m16Lower : m18Lower;
    const eu = p === 2 ? e16Upper : e18Upper, el = p === 2 ? e16Lower : e18Lower;
    const area = d3.area().x(d => xR(d[0])).y0(d => y(d[1])).y1(d => y(d[2])).curve(d3.curveMonotoneX);
    g.append("path").datum(bandPhase.map((t, i) => [t, lo[i], up[i]]))
      .attr("d", area).attr("fill", col).attr("stroke", col).attr("stroke-width", 1);
    g.append("path").datum(earlyPhase.map((t, i) => [t, el[i], eu[i]]))
      .attr("d", area).attr("fill", col).attr("stroke", col).attr("stroke-width", 1);
  }
  points(g, mgObs, xR, y, "star", 19, { fill: "#000" });

  // parameter box
  svg.append("rect").attr("x", 912).attr("y", top + 131).attr("width", boxWidths[p]).attr("height", 146)
    .attr("rx", 5).attr("fill", boxFills[p]).attr("stroke", "#c4c4c4").attr("stroke-width", 1.2);
  const bt = boxTexts[p];
  const fs = 19.5;
  mathText(svg, 924, top + 156, [["E", "i"], ["exp", "ib"], ["  ~ " + bt[0] + " ", ""], ["foe", "i"]], fs);
  mathText(svg, 924, top + 190, [["log \u1E40", "i"], [" ~  " + bt[1] + " ", ""], ["M", "i"], ["\u2299", "b"], [" yr", "i"], ["\u22121", "p"]], fs);
  mathText(svg, 924, top + 217, [["R", "i"], ["csm", "ib"], ["  ~  " + bt[2] + " \u00D7 10", ""], ["14", "p"], [" cm", "i"]], fs);
  mathText(svg, 924, top + 242, [["\u03B2", "i"], [" ~ " + bt[3], ""]], fs);
  mathText(svg, 924, top + 265, [["Total Models", "i"], ["  = " + bt[4], ""]], fs);
  mathText(svg, 918, top + 320, [["M", "i"], ["ZAMS", "ib"], [" = " + bt[5] + " ", ""], ["M", "i"], ["\u2299", "b"]], fs);

  // y label
  axisLabel(706, top + 173, true, 23, t => {
    t.append("tspan").attr("font-style", "italic").text("M");
    t.append("tspan").attr("font-style", "italic").attr("font-size", 16).attr("dy", 5).text("g");
  });
});

axisLabel(1060, 1443, false, 24, "Phase [Days Since Explosion]");
</script>
</body>
</html>
